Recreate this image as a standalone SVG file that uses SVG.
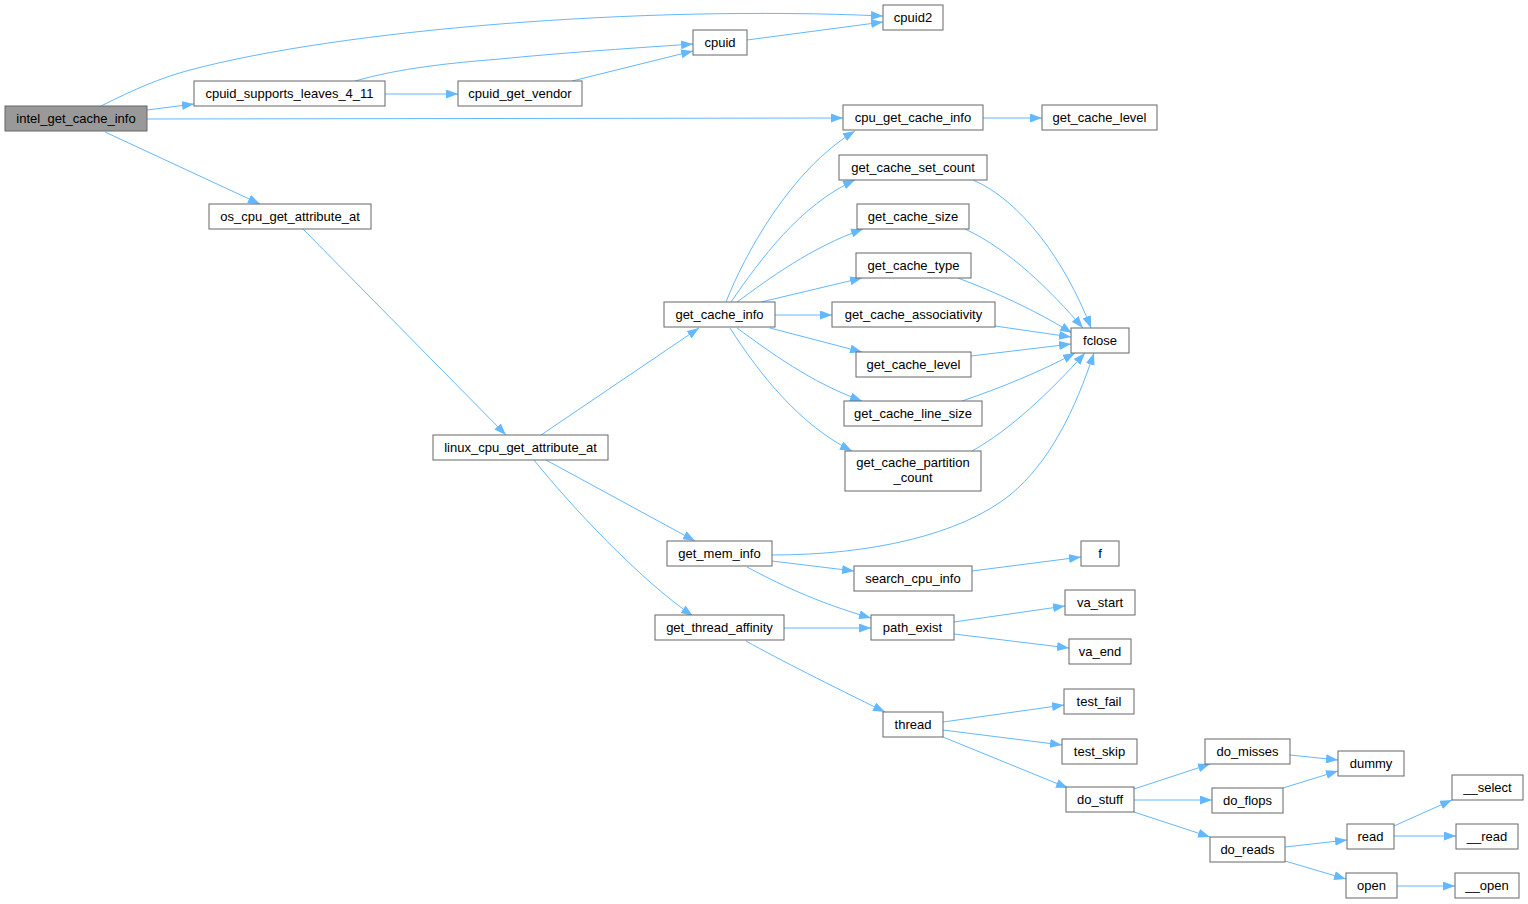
<svg xmlns="http://www.w3.org/2000/svg" width="1528" height="904" viewBox="0 0 1528 904">
<style>
.n rect{fill:#ffffff;stroke:#666666;stroke-width:1}
.n text{font-family:"Liberation Sans",Arial,sans-serif;font-size:13px;fill:#000000;text-anchor:middle}
#n0 rect{fill:#999999}
.e path{fill:none;stroke:#63b8ff;stroke-width:1;marker-end:url(#ah)}
</style>
<defs>
<marker id="ah" viewBox="0 0 12 9" refX="12" refY="4.5" markerWidth="12" markerHeight="9" markerUnits="userSpaceOnUse" orient="auto">
<path d="M0,0 L12,4.5 L0,9 z" fill="#63b8ff"/>
</marker>
</defs>
<rect width="1528" height="904" fill="#ffffff"/>
<g id="edges" class="e">
<path d="M101,106 C135,89 160,78 190,70 C340,30 640,5 883,16"/>
<path d="M147,110 L194,104"/>
<path d="M147,119 L843,118"/>
<path d="M105,132 L260,204"/>
<path d="M355,81 C400,68 450,63 500,59 C560,53 620,49 693,44"/>
<path d="M385,94 L458,94"/>
<path d="M572,81 L693,51"/>
<path d="M747,40 L883,22"/>
<path d="M983,118 L1042,118"/>
<path d="M303,229 L506,435"/>
<path d="M541,435 L699,328"/>
<path d="M546,460 L695,541"/>
<path d="M534,460 C570,505 640,580 693,616"/>
<path d="M726,302 C744,256 790,170 855,131"/>
<path d="M731,302 C760,260 800,205 855,180"/>
<path d="M737,302 C770,278 810,248 863,229"/>
<path d="M761,302 L862,278"/>
<path d="M775,315 L832,315"/>
<path d="M770,328 L862,352"/>
<path d="M737,328 C770,352 810,382 862,401"/>
<path d="M730,328 C760,375 800,425 852,451"/>
<path d="M973,180 C1020,200 1065,260 1091,328"/>
<path d="M965,229 C1010,250 1050,290 1083,328"/>
<path d="M958,278 C995,292 1035,310 1072,333"/>
<path d="M995,326 L1071,337"/>
<path d="M971,356 L1071,344"/>
<path d="M962,401 C1000,388 1040,372 1075,353"/>
<path d="M972,451 C1010,430 1050,392 1085,353"/>
<path d="M772,555 C870,555 960,535 1010,495 C1050,462 1075,410 1094,353"/>
<path d="M772,561 L854,571"/>
<path d="M747,567 C775,582 815,602 871,618"/>
<path d="M972,571 L1081,557"/>
<path d="M954,622 L1065,606"/>
<path d="M954,634 L1069,648"/>
<path d="M784,628 L871,628"/>
<path d="M746,641 C780,660 830,685 885,712"/>
<path d="M943,722 L1064,705"/>
<path d="M943,730 L1062,745"/>
<path d="M943,737 L1068,788"/>
<path d="M1134,789 L1210,764"/>
<path d="M1134,800 L1212,800"/>
<path d="M1134,812 L1210,837"/>
<path d="M1290,755 L1338,760"/>
<path d="M1283,788 L1338,771"/>
<path d="M1285,847 L1347,840"/>
<path d="M1285,861 L1346,879"/>
<path d="M1394,826 L1452,800"/>
<path d="M1394,836 L1456,836"/>
<path d="M1397,886 L1455,886"/>
</g>
<g id="n0" class="n"><rect x="5" y="106" width="142" height="25"/><text x="76" y="123">intel_get_cache_info</text></g>
<g id="n1" class="n"><rect x="194" y="81" width="191" height="25"/><text x="289.5" y="98">cpuid_supports_leaves_4_11</text></g>
<g id="n2" class="n"><rect x="458" y="81" width="124" height="25"/><text x="520" y="98">cpuid_get_vendor</text></g>
<g id="n3" class="n"><rect x="693" y="30" width="54" height="25"/><text x="720" y="47">cpuid</text></g>
<g id="n4" class="n"><rect x="883" y="5" width="60" height="25"/><text x="913" y="22">cpuid2</text></g>
<g id="n5" class="n"><rect x="843" y="105" width="140" height="25"/><text x="913" y="122">cpu_get_cache_info</text></g>
<g id="n6" class="n"><rect x="1042" y="105" width="115" height="25"/><text x="1099.5" y="122">get_cache_level</text></g>
<g id="n7" class="n"><rect x="209" y="204" width="162" height="25"/><text x="290" y="221">os_cpu_get_attribute_at</text></g>
<g id="n8" class="n"><rect x="433" y="435" width="175" height="25"/><text x="520.5" y="452">linux_cpu_get_attribute_at</text></g>
<g id="n9" class="n"><rect x="664" y="302" width="111" height="25"/><text x="719.5" y="319">get_cache_info</text></g>
<g id="n10" class="n"><rect x="839" y="155" width="148" height="25"/><text x="913" y="172">get_cache_set_count</text></g>
<g id="n11" class="n"><rect x="857" y="204" width="112" height="25"/><text x="913" y="221">get_cache_size</text></g>
<g id="n12" class="n"><rect x="856" y="253" width="115" height="25"/><text x="913.5" y="270">get_cache_type</text></g>
<g id="n13" class="n"><rect x="832" y="302" width="163" height="25"/><text x="913.5" y="319">get_cache_associativity</text></g>
<g id="n14" class="n"><rect x="856" y="352" width="115" height="25"/><text x="913.5" y="369">get_cache_level</text></g>
<g id="n15" class="n"><rect x="844" y="401" width="138" height="25"/><text x="913" y="418">get_cache_line_size</text></g>
<g id="n16" class="n"><rect x="845" y="451" width="136" height="40"/><text x="913" y="467">get_cache_partition</text><text x="913" y="482">_count</text></g>
<g id="n17" class="n"><rect x="1071" y="328" width="58" height="25"/><text x="1100" y="345">fclose</text></g>
<g id="n18" class="n"><rect x="667" y="541" width="105" height="25"/><text x="719.5" y="558">get_mem_info</text></g>
<g id="n19" class="n"><rect x="854" y="566" width="118" height="25"/><text x="913" y="583">search_cpu_info</text></g>
<g id="n20" class="n"><rect x="1081" y="541" width="38" height="25"/><text x="1100" y="558">f</text></g>
<g id="n21" class="n"><rect x="871" y="615" width="83" height="25"/><text x="912.5" y="632">path_exist</text></g>
<g id="n22" class="n"><rect x="1065" y="590" width="70" height="25"/><text x="1100" y="607">va_start</text></g>
<g id="n23" class="n"><rect x="1069" y="639" width="62" height="25"/><text x="1100" y="656">va_end</text></g>
<g id="n24" class="n"><rect x="655" y="615" width="129" height="25"/><text x="719.5" y="632">get_thread_affinity</text></g>
<g id="n25" class="n"><rect x="883" y="712" width="60" height="25"/><text x="913" y="729">thread</text></g>
<g id="n26" class="n"><rect x="1064" y="689" width="70" height="25"/><text x="1099" y="706">test_fail</text></g>
<g id="n27" class="n"><rect x="1062" y="739" width="75" height="25"/><text x="1099.5" y="756">test_skip</text></g>
<g id="n28" class="n"><rect x="1066" y="787" width="68" height="25"/><text x="1100" y="804">do_stuff</text></g>
<g id="n29" class="n"><rect x="1205" y="739" width="85" height="25"/><text x="1247.5" y="756">do_misses</text></g>
<g id="n30" class="n"><rect x="1338" y="751" width="66" height="25"/><text x="1371" y="768">dummy</text></g>
<g id="n31" class="n"><rect x="1212" y="788" width="71" height="25"/><text x="1247.5" y="805">do_flops</text></g>
<g id="n32" class="n"><rect x="1210" y="837" width="75" height="25"/><text x="1247.5" y="854">do_reads</text></g>
<g id="n33" class="n"><rect x="1347" y="824" width="47" height="25"/><text x="1370.5" y="841">read</text></g>
<g id="n34" class="n"><rect x="1346" y="873" width="51" height="25"/><text x="1371.5" y="890">open</text></g>
<g id="n35" class="n"><rect x="1452" y="775" width="71" height="25"/><text x="1487.5" y="792">__select</text></g>
<g id="n36" class="n"><rect x="1456" y="824" width="62" height="25"/><text x="1487" y="841">__read</text></g>
<g id="n37" class="n"><rect x="1455" y="873" width="64" height="25"/><text x="1487" y="890">__open</text></g>
</svg>
